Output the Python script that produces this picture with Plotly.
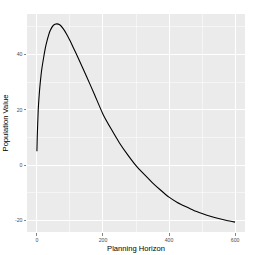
import plotly.graph_objects as go

horizon = [0, 1, 2, 4, 6, 8, 10, 14, 20, 25, 30, 40, 50, 60, 70, 80, 90, 100,
           110, 125, 150, 175, 200, 225, 250, 275, 300, 325, 350, 375, 400,
           425, 450, 475, 500, 525, 550, 575, 600]
pop_value = [5, 10, 13.5, 20, 23.8, 27, 29.6, 34, 38.6, 42, 44.6, 48.5, 50.5,
             51, 50.6, 49.2, 47.3, 45, 42.5, 38.7, 32.1, 25.3, 18.4, 13.0, 8.0,
             3.7, -0.2, -3.4, -6.4, -9.1, -11.6, -13.5, -15.0, -16.4, -17.5,
             -18.5, -19.3, -20.0, -20.6]
x_ticks = [0, 200, 400, 600]
y_ticks = [-20, 0, 20, 40]

xmin, xmax = min(horizon), max(horizon)
ymin, ymax = min(pop_value), max(pop_value)
xpad = (xmax - xmin) * 0.05
ypad = (ymax - ymin) * 0.05

fig = go.Figure(go.Scatter(
    x=horizon, y=pop_value, mode="lines",
    line=dict(color="black", width=1.1, shape="spline", smoothing=0.5),
    hoverinfo="skip",
))

font_family = "Liberation Sans, Arial, sans-serif"
axis_common = dict(
    showline=False, zeroline=False,
    gridcolor="white", gridwidth=1,
    ticks="outside", ticklen=2.5, tickwidth=0.6, tickcolor="#333333",
    tickfont=dict(size=5.2, color="#4D4D4D", family=font_family),
    automargin=False,
)

fig.update_layout(
    width=261, height=255,
    margin=dict(l=27, r=16, t=14, b=23),
    paper_bgcolor="white", plot_bgcolor="#EBEBEB",
    showlegend=False,
    hovermode=False,
    font=dict(family=font_family),
    xaxis=dict(
        range=[xmin - xpad, xmax + xpad],
        tickmode="array", tickvals=x_ticks, ticktext=[str(v) for v in x_ticks],
        minor=dict(dtick=100, tick0=0, showgrid=True, gridcolor="white", gridwidth=0.5, ticks=""),
        title=dict(text="Planning Horizon", font=dict(size=7.6, color="black"), standoff=3),
        **axis_common,
    ),
    yaxis=dict(
        range=[ymin - ypad, ymax + ypad],
        tickmode="array", tickvals=y_ticks, ticktext=[str(v) for v in y_ticks],
        minor=dict(dtick=10, tick0=0, showgrid=True, gridcolor="white", gridwidth=0.5, ticks=""),
        title=dict(text="Population Value", font=dict(size=7.6, color="black"), standoff=5),
        **axis_common,
    ),
)

fig.write_html(
    "out.html",
    config={"displayModeBar": False, "staticPlot": True},
    post_script="document.body.style.margin='0';document.body.style.overflow='hidden';",
)
